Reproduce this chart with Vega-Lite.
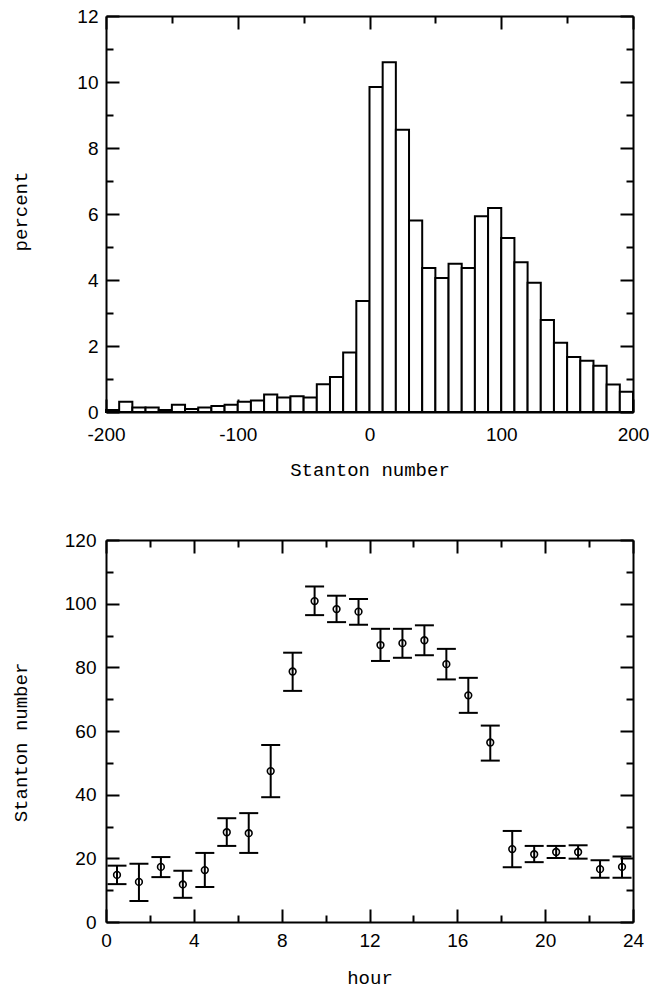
{
  "$schema": "https://vega.github.io/schema/vega-lite/v6.json",
  "padding": {"left": 11, "top": 7, "right": 0, "bottom": 10},
  "spacing": 52,
  "config": {
    "view": {"stroke": null},
    "axis": {
      "grid": false,
      "domainColor": "black",
      "domainWidth": 2,
      "tickColor": "black",
      "tickWidth": 2,
      "labelColor": "black",
      "labelFont": "Liberation Sans Narrow, Liberation Sans, sans-serif",
      "labelFontSize": 19,
      "labelFlush": false,
      "labelOverlap": false,
      "titleColor": "black",
      "titleFont": "Liberation Mono",
      "titleFontSize": 19,
      "titleFontWeight": "normal"
    }
  },
  "vconcat": [
    {
      "width": 527,
      "height": 396,
      "data": {"values": [
        {"lo": -200, "hi": -190, "pct": 0.06},
        {"lo": -190, "hi": -180, "pct": 0.31},
        {"lo": -180, "hi": -170, "pct": 0.14},
        {"lo": -170, "hi": -160, "pct": 0.14},
        {"lo": -160, "hi": -150, "pct": 0.06},
        {"lo": -150, "hi": -140, "pct": 0.22},
        {"lo": -140, "hi": -130, "pct": 0.09},
        {"lo": -130, "hi": -120, "pct": 0.14},
        {"lo": -120, "hi": -110, "pct": 0.18},
        {"lo": -110, "hi": -100, "pct": 0.22},
        {"lo": -100, "hi": -90, "pct": 0.31},
        {"lo": -90, "hi": -80, "pct": 0.35},
        {"lo": -80, "hi": -70, "pct": 0.53},
        {"lo": -70, "hi": -60, "pct": 0.44},
        {"lo": -60, "hi": -50, "pct": 0.48},
        {"lo": -50, "hi": -40, "pct": 0.44},
        {"lo": -40, "hi": -30, "pct": 0.84},
        {"lo": -30, "hi": -20, "pct": 1.06},
        {"lo": -20, "hi": -10, "pct": 1.80},
        {"lo": -10, "hi": 0, "pct": 3.36},
        {"lo": 0, "hi": 10, "pct": 9.85},
        {"lo": 10, "hi": 20, "pct": 10.6},
        {"lo": 20, "hi": 30, "pct": 8.55},
        {"lo": 30, "hi": 40, "pct": 5.80},
        {"lo": 40, "hi": 50, "pct": 4.36},
        {"lo": 50, "hi": 60, "pct": 4.06},
        {"lo": 60, "hi": 70, "pct": 4.49},
        {"lo": 70, "hi": 80, "pct": 4.36},
        {"lo": 80, "hi": 90, "pct": 5.93},
        {"lo": 90, "hi": 100, "pct": 6.18},
        {"lo": 100, "hi": 110, "pct": 5.27},
        {"lo": 110, "hi": 120, "pct": 4.54},
        {"lo": 120, "hi": 130, "pct": 3.92},
        {"lo": 130, "hi": 140, "pct": 2.79},
        {"lo": 140, "hi": 150, "pct": 2.10},
        {"lo": 150, "hi": 160, "pct": 1.67},
        {"lo": 160, "hi": 170, "pct": 1.55},
        {"lo": 170, "hi": 180, "pct": 1.40},
        {"lo": 180, "hi": 190, "pct": 0.83},
        {"lo": 190, "hi": 200, "pct": 0.61}
      ]},
      "resolve": {"axis": {"x": "independent", "y": "independent"}},
      "layer": [
        {
          "mark": {"type": "bar", "fill": "white", "stroke": "black", "strokeWidth": 2},
          "encoding": {
            "x": {"field": "lo", "type": "quantitative",
              "scale": {"domain": [-200, 200], "nice": false, "zero": false},
              "axis": {
                "orient": "bottom",
                "values": [-200, -150, -100, -50, 0, 50, 100, 150, 200],
                "tickSize": {"condition": {"test": "datum.value % 100 === 0", "value": -13}, "value": -7},
                "labelPadding": 26,
                "labelExpr": "datum.value % 100 === 0 ? '' + datum.value : ''",
                "title": "Stanton number",
                "titleX": 263.5,
                "titleY": 57,
                "titleBaseline": "middle",
                "titleAlign": "center"
              }},
            "x2": {"field": "hi"},
            "y": {"field": "pct", "type": "quantitative",
              "scale": {"domain": [0, 12], "nice": false},
              "axis": {
                "orient": "left",
                "values": [0, 1, 2, 3, 4, 5, 6, 7, 8, 9, 10, 11, 12],
                "tickSize": {"condition": {"test": "datum.value % 2 === 0", "value": -13}, "value": -7},
                "labelPadding": 21,
                "labelExpr": "datum.value % 2 === 0 ? '' + datum.value : ''",
                "title": "percent",
                "titleX": -86,
                "titleY": 195,
                "titleAngle": -90,
                "titleBaseline": "middle",
                "titleAlign": "center"
              }},
            "y2": {"datum": 0}
          }
        },
        {
          "mark": {"type": "bar", "opacity": 0},
          "encoding": {
            "x": {"field": "lo", "type": "quantitative",
              "axis": {
                "orient": "top",
                "values": [-200, -150, -100, -50, 0, 50, 100, 150, 200],
                "tickSize": {"condition": {"test": "datum.value % 100 === 0", "value": -13}, "value": -7},
                "labels": false,
                "title": null
              }},
            "x2": {"field": "hi"},
            "y": {"field": "pct", "type": "quantitative",
              "axis": {
                "orient": "right",
                "values": [0, 1, 2, 3, 4, 5, 6, 7, 8, 9, 10, 11, 12],
                "tickSize": {"condition": {"test": "datum.value % 2 === 0", "value": -13}, "value": -7},
                "labels": false,
                "title": null
              }},
            "y2": {"datum": 0}
          }
        }
      ]
    },
    {
      "width": 527,
      "height": 382,
      "data": {"values": [
        {"hour": 0.5, "sn": 14.8, "lo": 11.9, "hi": 17.7},
        {"hour": 1.5, "sn": 12.6, "lo": 6.6, "hi": 18.3},
        {"hour": 2.5, "sn": 17.3, "lo": 14.1, "hi": 20.4},
        {"hour": 3.5, "sn": 11.8, "lo": 7.6, "hi": 16.1},
        {"hour": 4.5, "sn": 16.3, "lo": 11.0, "hi": 21.7},
        {"hour": 5.5, "sn": 28.2, "lo": 23.9, "hi": 32.6},
        {"hour": 6.5, "sn": 27.9, "lo": 21.7, "hi": 34.2},
        {"hour": 7.5, "sn": 47.4, "lo": 39.2, "hi": 55.6},
        {"hour": 8.5, "sn": 78.7, "lo": 72.6, "hi": 84.6},
        {"hour": 9.5, "sn": 100.8, "lo": 96.4, "hi": 105.4},
        {"hour": 10.5, "sn": 98.3, "lo": 94.2, "hi": 102.5},
        {"hour": 11.5, "sn": 97.5, "lo": 93.4, "hi": 101.5},
        {"hour": 12.5, "sn": 87.0, "lo": 82.0, "hi": 92.1},
        {"hour": 13.5, "sn": 87.6, "lo": 83.0, "hi": 92.1},
        {"hour": 14.5, "sn": 88.5, "lo": 83.8, "hi": 93.2},
        {"hour": 15.5, "sn": 81.0, "lo": 76.2, "hi": 85.8},
        {"hour": 16.5, "sn": 71.2, "lo": 65.7, "hi": 76.7},
        {"hour": 17.5, "sn": 56.4, "lo": 50.7, "hi": 61.7},
        {"hour": 18.5, "sn": 22.9, "lo": 17.2, "hi": 28.6},
        {"hour": 19.5, "sn": 21.3, "lo": 18.8, "hi": 23.9},
        {"hour": 20.5, "sn": 22.0, "lo": 20.1, "hi": 23.9},
        {"hour": 21.5, "sn": 22.0, "lo": 19.9, "hi": 24.1},
        {"hour": 22.5, "sn": 16.6, "lo": 13.9, "hi": 19.4},
        {"hour": 23.5, "sn": 17.3, "lo": 13.9, "hi": 20.6}
      ]},
      "resolve": {"axis": {"x": "independent", "y": "independent"}},
      "layer": [
        {
          "mark": {"type": "rule", "color": "black", "strokeWidth": 2},
          "encoding": {
            "x": {"field": "hour", "type": "quantitative",
              "scale": {"domain": [0, 24], "nice": false},
              "axis": {
                "orient": "bottom",
                "values": [0, 2, 4, 6, 8, 10, 12, 14, 16, 18, 20, 22, 24],
                "tickSize": {"condition": {"test": "datum.value % 4 === 0", "value": -13}, "value": -7},
                "labelPadding": 22,
                "labelExpr": "datum.value % 4 === 0 ? '' + datum.value : ''",
                "title": "hour",
                "titleX": 263.5,
                "titleY": 55,
                "titleBaseline": "middle",
                "titleAlign": "center"
              }},
            "y": {"field": "lo", "type": "quantitative",
              "scale": {"domain": [0, 120], "nice": false},
              "axis": {
                "orient": "left",
                "values": [0, 10, 20, 30, 40, 50, 60, 70, 80, 90, 100, 110, 120],
                "tickSize": {"condition": {"test": "datum.value % 20 === 0", "value": -13}, "value": -7},
                "labelPadding": 23,
                "labelExpr": "datum.value % 20 === 0 ? '' + datum.value : ''",
                "title": "Stanton number",
                "titleX": -86,
                "titleY": 202,
                "titleAngle": -90,
                "titleBaseline": "middle",
                "titleAlign": "center"
              }},
            "y2": {"field": "hi"}
          }
        },
        {
          "mark": {"type": "tick", "orient": "horizontal", "color": "black", "size": 19, "thickness": 2, "opacity": 1},
          "encoding": {
            "x": {"field": "hour", "type": "quantitative", "axis": null},
            "y": {"field": "lo", "type": "quantitative", "axis": null}
          }
        },
        {
          "mark": {"type": "tick", "orient": "horizontal", "color": "black", "size": 19, "thickness": 2, "opacity": 1},
          "encoding": {
            "x": {"field": "hour", "type": "quantitative", "axis": null},
            "y": {"field": "hi", "type": "quantitative", "axis": null}
          }
        },
        {
          "mark": {"type": "point", "shape": "circle", "filled": false, "color": "black", "size": 45, "strokeWidth": 1.6, "opacity": 1},
          "encoding": {
            "x": {"field": "hour", "type": "quantitative",
              "axis": {
                "orient": "top",
                "values": [0, 2, 4, 6, 8, 10, 12, 14, 16, 18, 20, 22, 24],
                "tickSize": {"condition": {"test": "datum.value % 4 === 0", "value": -13}, "value": -7},
                "labels": false,
                "title": null
              }},
            "y": {"field": "sn", "type": "quantitative",
              "axis": {
                "orient": "right",
                "values": [0, 10, 20, 30, 40, 50, 60, 70, 80, 90, 100, 110, 120],
                "tickSize": {"condition": {"test": "datum.value % 20 === 0", "value": -13}, "value": -7},
                "labels": false,
                "title": null
              }}
          }
        }
      ]
    }
  ]
}
